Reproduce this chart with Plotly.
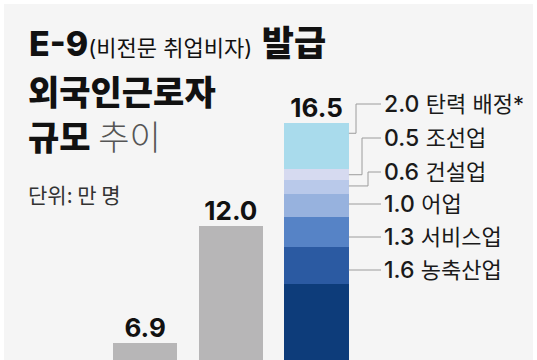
import plotly.graph_objects as go

# ---------------- data ----------------
years = ["2021", "2022", "2023", "2024"]
totals = [5.2, 6.9, 12.0, 16.5]
gray_values = [5.2, 6.9, 12.0, None]

seg_names = ["기존", "농축산업", "서비스업", "어업", "건설업", "조선업", "탄력 배정*"]
seg_values = [9.5, 1.6, 1.3, 1.0, 0.6, 0.5, 2.0]

# ---------------- style / layout ----------------
W, H = 537, 360
FONT = "Inter, Noto Sans CJK KR"
KFONT = "Noto Sans CJK KR"
seg_colors = ["#0d3c7a", "#2b5aa2", "#5683c6", "#97b2de", "#b9c9ea", "#d6daf0", "#a9dbec"]
gray_color = "#b7b6b7"
panel_color = "#f5f5f5"
line_color = "#9c9c9c"

X_RANGE = [-0.694, 5.572]
Y_RANGE = [6.16, 21.88]
BAR_W = 0.753

def px2x(px):
    return X_RANGE[0] + px / W * (X_RANGE[1] - X_RANGE[0])

def py2y(py):
    return Y_RANGE[1] - py / H * (Y_RANGE[1] - Y_RANGE[0])

xpos = list(range(len(years)))

fig = go.Figure()

fig.add_trace(go.Bar(
    x=xpos, y=gray_values, width=BAR_W, marker=dict(color=gray_color, line=dict(width=0)),
    hovertext=years, showlegend=False,
))
for name, v, c in zip(seg_names, seg_values, seg_colors):
    fig.add_trace(go.Bar(
        x=[xpos[-1]], y=[v], width=BAR_W, name=name,
        marker=dict(color=c, line=dict(width=0)), showlegend=False,
    ))

# value labels above bars (scatter text so the partly cropped first label still draws)
fig.add_trace(go.Scatter(
    x=xpos, y=totals, mode="text", text=[f"<b>{t:.1f}</b>" for t in totals],
    textposition="top center", cliponaxis=False, showlegend=False, hoverinfo="skip",
    textfont=dict(family=FONT, size=26, color="#111111"),
))

annotations = []
shapes = []

# panel background
shapes.append(dict(type="rect", xref="paper", yref="paper", x0=4 / W, x1=533 / W,
                   y0=-0.1, y1=1 - 4 / H, fillcolor=panel_color, line=dict(width=0),
                   layer="below"))

# segment labels with leader lines (top to bottom)
label_py = [104, 138, 172, 204, 237, 270]
elbow_px = [356, 362, 368, None, None, None]
anchor_frac = [0.78, 0.5, 0.6, 0.5, 0.5, 0.5]
bar_edge = xpos[-1] + BAR_W / 2
label_line_x = px2x(381)
label_text_x = px2x(382)

cum = [0]
for v in seg_values:
    cum.append(cum[-1] + v)

order = list(range(len(seg_values) - 1, 0, -1))  # top segment first, skip base
for k, si in enumerate(order):
    ly = py2y(label_py[k])
    annotations.append(dict(x=label_text_x, y=ly, xref="x", yref="y", xanchor="left",
                            yanchor="middle", showarrow=False,
                            text=(f"<span style='font-weight:500'>{seg_values[si]:.1f}</span> "
                                  f"<span style='font-size:22px'>{seg_names[si]}</span>"),
                            font=dict(family=FONT, size=23, color="#1a1a1a")))
    if elbow_px[k] is None:
        path = f"M {bar_edge},{ly} L {label_line_x},{ly}"
    else:
        ey = cum[si] + anchor_frac[k] * seg_values[si]
        ex = px2x(elbow_px[k])
        path = (f"M {label_line_x},{ly} L {ex},{ly} L {ex},{ey} L {bar_edge},{ey}")
    shapes.append(dict(type="path", xref="x", yref="y", path=path,
                       line=dict(color=line_color, width=1)))

# title block
def ann_px(px, py, text, size, color="#111111", yanchor="middle", family=FONT):
    return dict(x=px / W, y=1 - py / H, xref="paper", yref="paper", xanchor="left",
                yanchor=yanchor, showarrow=False, text=text,
                font=dict(family=family, size=size, color=color))

annotations.append(ann_px(27, 43,
    "<span style='font-weight:800'>E-9</span>"
    "<span style='font-size:22px;font-weight:400'>(비전문 취업비자)</span> "
    "<span style='font-weight:900;font-size:35px'>발급</span>", 34))
annotations.append(ann_px(26, 90, "<span style='font-weight:900'>외국인근로자</span>", 34,
                          family=KFONT))
annotations.append(ann_px(26, 135,
    "<span style='font-weight:900'>규모</span> "
    "<span style='color:#555555;font-weight:300'>추이</span>", 34, family=KFONT))
annotations.append(ann_px(26, 194, "단위: 만 명", 21, color="#333333", family=KFONT))

fig.update_layout(
    width=W, height=H, margin=dict(l=0, r=0, t=0, b=0),
    paper_bgcolor="white", plot_bgcolor="rgba(0,0,0,0)",
    barmode="stack", bargap=0,
    xaxis=dict(range=X_RANGE, visible=False, fixedrange=True),
    yaxis=dict(range=Y_RANGE, visible=False, fixedrange=True),
    annotations=annotations, shapes=shapes,
    font=dict(family=FONT),
)

fig.write_html("out.html", config={"displayModeBar": False},
               post_script="document.body.style.margin='0';document.body.style.overflow='hidden';")
